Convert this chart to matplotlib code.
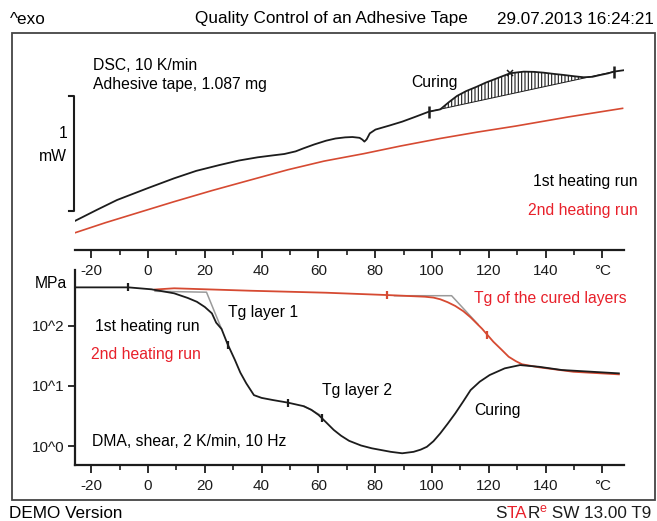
import numpy as np
import matplotlib.pyplot as plt
from matplotlib.patches import Rectangle
from matplotlib.ticker import NullLocator

plt.rcParams['font.family'] = ['Liberation Sans', 'DejaVu Sans']
plt.rcParams['hatch.linewidth'] = 0.8

W, H = 657, 521

# DSC, 1st heating run (temperature in °C, heat flow in mW, arbitrary offset)
dsc1_t = [-25.6, -18, -10.9, 0, 9.2, 17, 25.2, 32, 38.6, 44, 48, 52, 54.7, 58.5,
          62.7, 66, 69.4, 72, 74.5, 75.5, 76.2, 77, 78.1, 80.1, 85, 89.5, 94, 98.9,
          102.9, 106, 108.8, 112, 115.8, 119, 122.9, 127.5, 132.3, 136, 139.3, 143,
          146.4, 150, 153.4, 156.5, 159.3, 162, 164, 168]
dsc1_mw = [0.255, 0.35, 0.436, 0.54, 0.625, 0.69, 0.741, 0.78, 0.808, 0.825, 0.837,
           0.86, 0.886, 0.92, 0.953, 0.972, 0.982, 0.985, 0.978, 0.962, 0.945, 0.965,
           1.017, 1.05, 1.085, 1.119, 1.16, 1.206, 1.226, 1.29, 1.343, 1.385, 1.424,
           1.46, 1.497, 1.541, 1.555, 1.553, 1.546, 1.535, 1.526, 1.515, 1.506, 1.51,
           1.526, 1.54, 1.555, 1.569]

# DSC, 2nd heating run
dsc2_t = [-25.6, -15, -4.2, 9, 22.5, 36, 49.3, 62, 76, 89, 102.8, 116, 129.6, 148, 167.1]
dsc2_mw = [0.151, 0.238, 0.32, 0.42, 0.518, 0.61, 0.7, 0.775, 0.84, 0.907, 0.972,
           1.028, 1.081, 1.16, 1.235]

# integration limits of the curing peak and its maximum
cure_lim_t = [98.9, 164]
cure_lim_mw = [1.206, 1.555]
cure_peak = (127.5, 1.541)

# DMA, shear modulus in MPa
dma1_t = [-25.6, -6.9, 1.2, 9.2, 14, 17.2, 20, 22.5, 24, 25.9, 27.9, 30.6, 32.5, 34.6,
          37.3, 40, 44, 49.3, 54.7, 57.5, 60.1, 62.8, 65.4, 68, 70.8, 75, 78.8, 85.5,
          89.5, 93.5, 96, 98.2, 100.5, 102.9, 105.5, 108.2, 111, 113.6, 116.8, 120.3,
          125.6, 131, 137.7, 145.7, 156.4, 165.8]
dma1_g = [432, 432, 401, 344, 288, 249, 204, 160, 112, 88, 50.8, 26.9, 16.6, 11, 7.0,
          6.3, 5.8, 5.25, 4.6, 4.0, 3.27, 2.45, 1.85, 1.48, 1.22, 1.02, 0.916, 0.80,
          0.757, 0.80, 0.87, 0.97, 1.2, 1.62, 2.34, 3.49, 5.5, 8.5, 11.7, 15.1, 19.5,
          22.1, 20.7, 18.3, 17.1, 16.1]

dma2_t = [2.5, 9.2, 35.9, 62.7, 84.2, 97.5, 100.5, 102.9, 105.5, 108.2, 111, 113.6,
          117.6, 121.6, 124.5, 127, 129.5, 131.7, 137.7, 149.8, 165.8]
dma2_g = [398, 417, 380, 352, 322, 302, 292, 274, 245, 212, 174, 137, 89, 54, 39.8,
          30.4, 25.7, 22.8, 20.3, 17.1, 15.5]

# onset tangent constructions
tg1_t, tg1_g = [2.5, 20.6, 25.9], [372, 359, 88]
tg2_t, tg2_g = [55, 60.5], [4.6, 3.3]
tgc_t, tgc_g = [86.8, 106.9, 116.2], [314, 314, 105]

# evaluation marks on the DMA curves
mark1_t, mark1_g = [-6.9, 28.2, 49.3, 61.2], [432, 48, 5.25, 2.9]
mark2_t, mark2_g = [84.2, 119.5], [322, 70]

x_ticks = list(range(-20, 161, 20))
x_labels = [str(v) for v in range(-20, 141, 20)] + ['°C']
x_minor = list(range(-10, 151, 20))

BLACK = '#1c1c1c'
RED_LINE = '#d64a32'
RED_TEXT = '#e8212b'
GREY = '#9a9a9a'
FS = 11.3       # annotation text
FS_HEAD = 12.3  # header / footer
FS_TICK = 11


def px_rect(x0, y0, x1, y1):
    return [x0 / W, 1 - y1 / H, (x1 - x0) / W, (y1 - y0) / H]


def ftext(x, y, s, **kw):
    kw.setdefault('va', 'center')
    kw.setdefault('fontsize', FS)
    return fig.text(x / W, 1 - y / H, s, **kw)


def style_xaxis(ax):
    ax.set_xlim((75 - 148) / 2.84, (624 - 148) / 2.84)
    ax.set_xticks(x_ticks)
    ax.set_xticklabels(x_labels)
    ax.set_xticks(x_minor, minor=True)
    ax.tick_params(axis='x', which='major', direction='out', length=6, width=1.3,
                   pad=4, labelsize=FS_TICK, colors=BLACK)
    ax.tick_params(axis='x', which='minor', direction='out', length=3.5, width=1.2,
                   colors=BLACK)
    ax.spines['bottom'].set_linewidth(1.6)
    ax.spines['bottom'].set_color(BLACK)
    ax.spines['top'].set_visible(False)
    ax.spines['right'].set_visible(False)


fig = plt.figure(figsize=(W / 100, H / 100), dpi=100)

# --- DSC panel ---
ax1 = fig.add_axes(px_rect(75, 36, 624, 250))
style_xaxis(ax1)
ax1.spines['left'].set_visible(False)
ax1.set_yticks([])
ax1.set_ylim(0, 214 / 114.7)
ax1.patch.set_visible(False)

ax1.plot(dsc2_t, dsc2_mw, color=RED_LINE, lw=1.2)
ax1.plot(dsc1_t, dsc1_mw, color=BLACK, lw=1.3)

t1 = np.array(dsc1_t)
m1 = np.array(dsc1_mw)
sel = (t1 >= cure_lim_t[0]) & (t1 <= cure_lim_t[1])
base = np.interp(t1[sel], cure_lim_t, cure_lim_mw)
ax1.fill_between(t1[sel], base, m1[sel], facecolor='none', edgecolor=BLACK,
                 hatch='|||||', lw=0)
ax1.plot(cure_lim_t, cure_lim_mw, color=BLACK, lw=0.7)
ax1.plot(cure_lim_t, cure_lim_mw, ls='none', marker='|', ms=9, mew=1.8, color=BLACK)
ax1.plot(*cure_peak, marker='x', ms=4, mew=1.1, color=BLACK)

# 1 mW scale bar
bar_t = (74 - 148) / 2.84
hook = 5 / 2.84
ax1.plot([bar_t - hook, bar_t, bar_t, bar_t - hook], [1.343, 1.343, 0.343, 0.343],
         color=BLACK, lw=1.5, clip_on=False)

# --- DMA panel ---
ax2 = fig.add_axes(px_rect(75, 270, 624, 465))
style_xaxis(ax2)
ax2.set_yscale('log')
ax2.set_ylim(10 ** -0.3156, 10 ** 2.924)
ax2.set_yticks([1, 10, 100])
ax2.set_yticklabels(['10^0', '10^1', '10^2'])
ax2.yaxis.set_minor_locator(NullLocator())
ax2.tick_params(axis='y', direction='out', length=5, width=1.3, pad=2.5,
                labelsize=FS_TICK, colors=BLACK)
ax2.spines['left'].set_linewidth(1.6)
ax2.spines['left'].set_color(BLACK)
ax2.patch.set_visible(False)

ax2.plot(tg1_t, tg1_g, color=GREY, lw=1.1)
ax2.plot(tg2_t, tg2_g, color=GREY, lw=1.1)
ax2.plot(tgc_t, tgc_g, color=GREY, lw=1.1)
ax2.plot(dma2_t, dma2_g, color=RED_LINE, lw=1.3)
ax2.plot(dma1_t, dma1_g, color=BLACK, lw=1.3)
ax2.plot(mark1_t, mark1_g, ls='none', marker='|', ms=6, mew=1.6, color=BLACK)
ax2.plot(mark2_t, mark2_g, ls='none', marker='|', ms=6, mew=1.6, color=RED_LINE)

# --- frame, header and annotations ---
fig.add_artist(Rectangle((12 / W, 1 - 500 / H), 643 / W, 467 / H, fill=False,
                         lw=1.3, ec='#444444', transform=fig.transFigure))

ftext(10, 19, '^exo', fontsize=FS_HEAD, ha='left')
ftext(331, 19, 'Quality Control of an Adhesive Tape', fontsize=FS_HEAD, ha='center')
ftext(654, 19, '29.07.2013 16:24:21', fontsize=FS_HEAD, ha='right')

ftext(93, 65, 'DSC, 10 K/min', ha='left')
ftext(93, 85, 'Adhesive tape, 1.087 mg', ha='left')
ftext(67, 133, '1', ha='right')
ftext(67, 157, 'mW', ha='right')
ftext(411, 83, 'Curing', ha='left')
ftext(638, 182, '1st heating run', ha='right')
ftext(638, 211, '2nd heating run', ha='right', color=RED_TEXT)

ftext(67, 283, 'MPa', ha='right')
ftext(228, 313, 'Tg layer 1', ha='left')
ftext(95, 326, '1st heating run', ha='left')
ftext(91, 354, '2nd heating run', ha='left', color=RED_TEXT)
ftext(474, 298, 'Tg of the cured layers', ha='left', color=RED_TEXT)
ftext(322, 391, 'Tg layer 2', ha='left')
ftext(474, 411, 'Curing', ha='left')
ftext(92, 442, 'DMA, shear, 2 K/min, 10 Hz', ha='left')

ftext(9, 514, 'DEMO Version', fontsize=FS_HEAD, ha='left')

# software tag with coloured letters, right-aligned at the frame edge
fig.canvas.draw()
renderer = fig.canvas.get_renderer()
pieces = [('S', BLACK, 0, FS_HEAD), ('TA', RED_TEXT, 0, FS_HEAD),
          ('R', BLACK, 0, FS_HEAD), ('e', RED_TEXT, -5, 9),
          (' SW 13.00 T9', BLACK, 0, FS_HEAD)]
items = []
for piece, col, dy, fs in pieces:
    t = ftext(0, 514 + dy, piece, fontsize=fs, ha='left', color=col)
    items.append((t, t.get_window_extent(renderer).width))
xpos = 651 - sum(w for _, w in items)
for t, w in items:
    t.set_x(xpos / W)
    xpos += w

fig.savefig('out.png', dpi=100)
